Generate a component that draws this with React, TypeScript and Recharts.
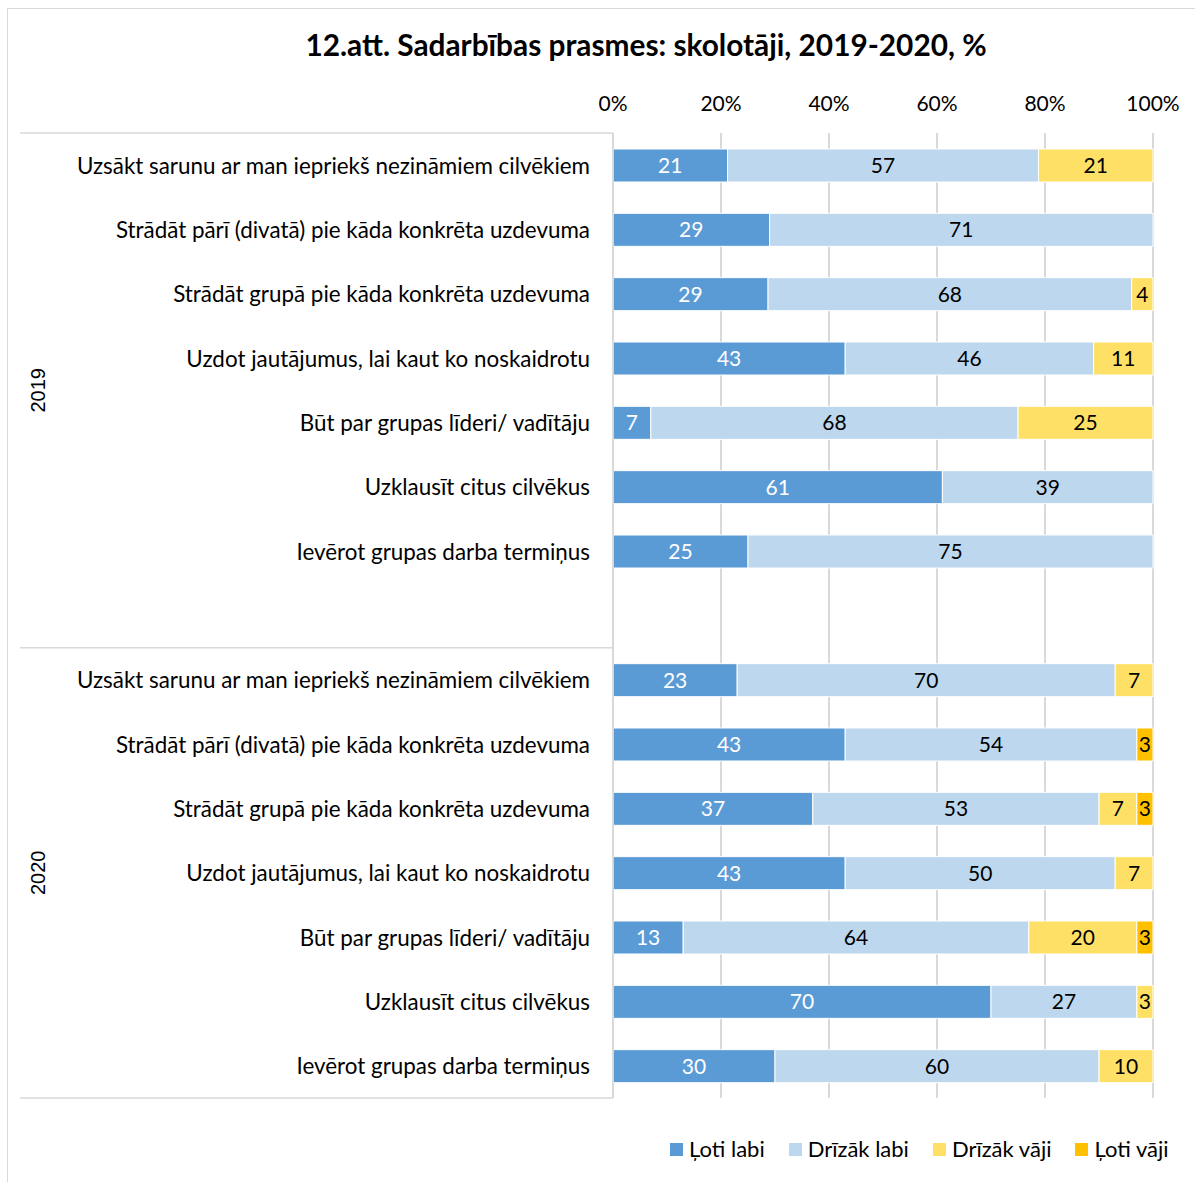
import React from 'react';
import { BarChart, Bar, XAxis, YAxis, CartesianGrid, LabelList, Legend } from 'recharts';

const skills = [
    'Uzsākt sarunu ar man iepriekš nezināmiem cilvēkiem',
    'Strādāt pārī (divatā) pie kāda konkrēta uzdevuma ',
    'Strādāt grupā pie kāda konkrēta uzdevuma',
    'Uzdot jautājumus, lai kaut ko noskaidrotu',
    'Būt par grupas līderi/ vadītāju',
    'Uzklausīt citus cilvēkus',
    'Ievērot grupas darba termiņus',
];

const years = ['2019', '2020'];

// values per year, same order as skills
const veryGood2019 = [21, 29, 29, 43, 7, 61, 25];
const ratherGood2019 = [57, 71, 68, 46, 68, 39, 75];
const ratherWeak2019 = [21, 0, 4, 11, 25, 0, 0];
const veryWeak2019 = [0, 0, 0, 0, 0, 0, 0];

const veryGood2020 = [23, 43, 37, 43, 13, 70, 30];
const ratherGood2020 = [70, 54, 53, 50, 64, 27, 60];
const ratherWeak2020 = [7, 0, 7, 7, 20, 3, 10];
const veryWeak2020 = [0, 3, 3, 0, 3, 0, 0];

const seriesNames = ['Ļoti labi', 'Drīzāk labi', 'Drīzāk vāji', 'Ļoti vāji'];
const COLORS = ['#5B9BD5', '#BDD7EE', '#FFE066', '#FFC000'];
const xTicks = [0, 0.2, 0.4, 0.6, 0.8, 1];

type Row = { id: string; label: string; a: number | null; b: number | null; c: number | null; d: number | null };

const rows: Row[] = [];
skills.forEach((s, i) => rows.push({ id: `y19-${i}`, label: s, a: veryGood2019[i], b: ratherGood2019[i], c: ratherWeak2019[i], d: veryWeak2019[i] }));
rows.push({ id: 'gap', label: '', a: null, b: null, c: null, d: null });
skills.forEach((s, i) => rows.push({ id: `y20-${i}`, label: s, a: veryGood2020[i], b: ratherGood2020[i], c: ratherWeak2020[i], d: veryWeak2020[i] }));

const FONT = 'Lato, "Open Sans", sans-serif';
const W = 1195;
const H = 1182;
const PLOT_TOP = 133;
const PLOT_BOTTOM = 1098;
const PLOT_LEFT = 613;
const BAND = (PLOT_BOTTOM - PLOT_TOP) / rows.length;
const LINE = '#D9D9D9';

const YTick = ({ y, index }: any) => {
    const row = rows[index];
    const top = y - BAND / 2;
    const bottom = y + BAND / 2;
    return (
        <g>
            <text x={PLOT_LEFT - 23} y={y} textAnchor="end" dominantBaseline="central"
                fontFamily={FONT} fontSize={22.4} fill="#000">{row ? row.label : ''}</text>
            {index === 0 && (
                <>
                    <line x1={20} x2={PLOT_LEFT} y1={top} y2={top} stroke={LINE} strokeWidth={1.5} />
                    <text x={38} y={top + BAND * 4} transform={`rotate(-90 38 ${top + BAND * 4})`}
                        textAnchor="middle" dominantBaseline="central"
                        fontFamily='"Liberation Sans", Arial, sans-serif' fontSize={20} fill="#000">{years[0]}</text>
                </>
            )}
            {index === 7 && (
                <line x1={20} x2={PLOT_LEFT} y1={bottom} y2={bottom} stroke={LINE} strokeWidth={1.5} />
            )}
            {index === 8 && (
                <text x={38} y={top + BAND * 3.5} transform={`rotate(-90 38 ${top + BAND * 3.5})`}
                    textAnchor="middle" dominantBaseline="central"
                    fontFamily='"Liberation Sans", Arial, sans-serif' fontSize={20} fill="#000">{years[1]}</text>
            )}
            {index === rows.length - 1 && (
                <line x1={20} x2={PLOT_LEFT} y1={bottom} y2={bottom} stroke={LINE} strokeWidth={1.5} />
            )}
        </g>
    );
};

const XTick = ({ x, payload }: any) => (
    <text x={x} y={PLOT_TOP - 31} textAnchor="middle" dominantBaseline="central"
        fontFamily={FONT} fontSize={21} fill="#000">{`${Math.round(payload.value * 100)}%`}</text>
);

const LegendContent = () => (
    <div style={{ display: 'flex', flexWrap: 'nowrap', whiteSpace: 'nowrap', width: 'max-content', fontFamily: FONT, fontSize: 22, color: '#000', lineHeight: '28px' }}>
        {seriesNames.map((n, i) => (
            <div key={n} style={{ display: 'flex', alignItems: 'center', flexShrink: 0, marginRight: i < seriesNames.length - 1 ? 24 : 0 }}>
                <span style={{ width: 13, height: 13, background: COLORS[i], display: 'inline-block', marginRight: 6, flexShrink: 0 }} />
                <span>{n}</span>
            </div>
        ))}
    </div>
);

const hideZero = (v: any) => (v ? v : '');

const App = () => {
    const keys = ['a', 'b', 'c', 'd'];
    return (
        <div style={{ position: 'absolute', left: 0, top: 0, width: W, height: H, background: 'white', overflow: 'hidden' }}>
            <div style={{ position: 'absolute', left: 7, top: 8, width: W, height: H, borderLeft: `1.5px solid ${LINE}`, borderTop: `1.5px solid ${LINE}` }} />
            <div style={{ position: 'absolute', left: 0, width: 1292, top: 27, textAlign: 'center', fontFamily: FONT, fontWeight: 'bold', fontSize: 29.8, color: '#000' }}>
                12.att. Sadarbības prasmes: skolotāji, 2019-2020, %
            </div>
            <BarChart width={W} height={H} data={rows} layout="vertical" stackOffset="expand" barSize={33}
                margin={{ top: 93, right: 42, bottom: H - PLOT_BOTTOM, left: 20 }}>
                <CartesianGrid horizontal={false} stroke={LINE} strokeWidth={2} />
                <XAxis type="number" orientation="top" height={40} domain={[0, 1]} ticks={xTicks}
                    axisLine={false} tickLine={false} tick={<XTick />} />
                <YAxis type="category" dataKey="id" width={PLOT_LEFT - 20} interval={0}
                    axisLine={{ stroke: LINE, strokeWidth: 1.5 }} tickLine={false} tick={<YTick />} />
                {keys.map((k, i) => (
                    <Bar key={k} dataKey={k} name={seriesNames[i]} stackId="s" fill={COLORS[i]}
                        stroke="#fff" strokeWidth={1} isAnimationActive={false}>
                        <LabelList dataKey={k} position="center" formatter={hideZero}
                            fill={i === 0 ? '#fff' : '#000'} fontFamily={FONT} fontSize={21} />
                    </Bar>
                ))}
                <Legend layout="horizontal" verticalAlign="middle" align="center" content={<LegendContent />}
                    wrapperStyle={{ position: 'absolute', top: 1135, left: 670, width: 520, height: 30 }} />
            </BarChart>
        </div>
    );
};

export default App;
